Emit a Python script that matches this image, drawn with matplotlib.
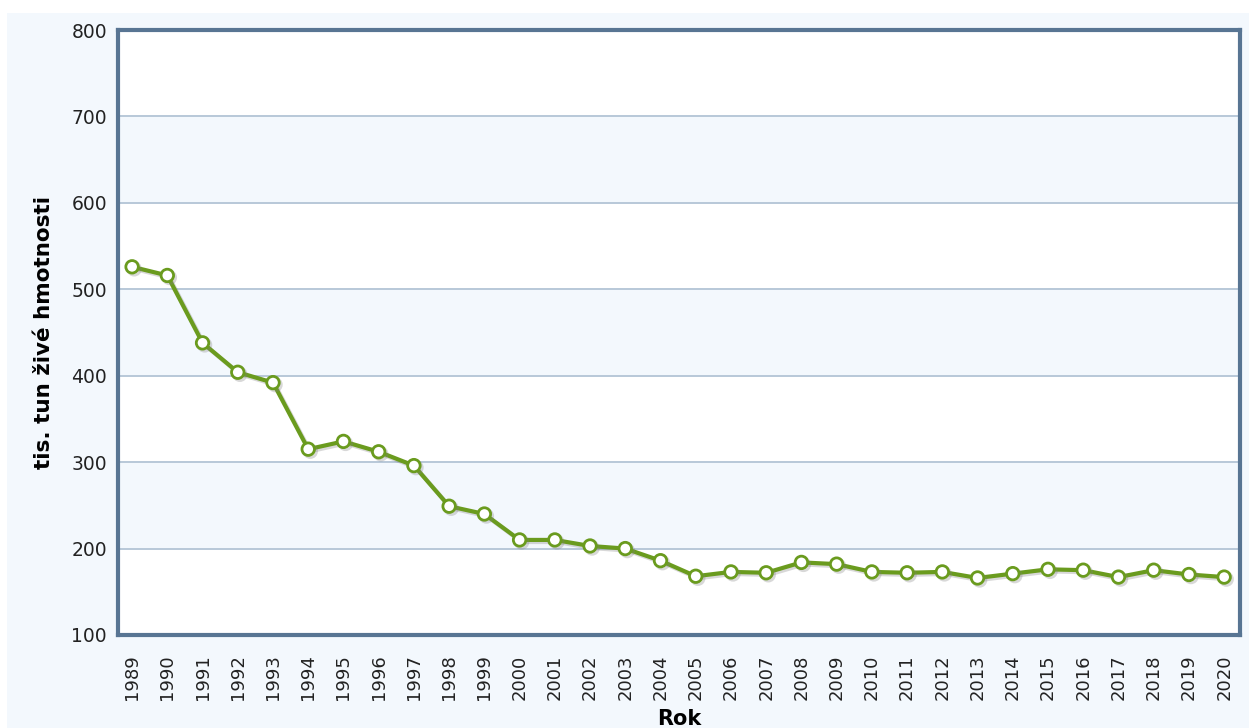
import matplotlib.pyplot as plt
import matplotlib.patheffects as pe
from matplotlib.patches import Rectangle

years = list(range(1989, 2021))
values = [526, 516, 438, 404, 392, 315, 324, 312, 296, 249, 240, 210, 210, 203,
          200, 186, 168, 173, 172, 184, 182, 173, 172, 173, 166, 171, 176, 175,
          167, 175, 170, 167]
y_ticks = [100, 200, 300, 400, 500, 600, 700, 800]

bg = '#f3f8fd'
frame = '#587593'
green = '#6a9b1e'

fig = plt.figure(figsize=(12.49, 7.28), dpi=100)
fig.patch.set_facecolor('white')
fig.patches.append(Rectangle((7 / 1249, 0), 1, 1 - 13 / 728, transform=fig.transFigure,
                             facecolor=bg, edgecolor='none', zorder=-10))

ax = fig.add_axes([118 / 1249, 1 - 635 / 728, 1122 / 1249, 605 / 728])
ax.set_facecolor('white')

# alternating bands
for i, lo in enumerate(y_ticks[:-1]):
    if i % 2 == 1:
        ax.axhspan(lo, lo + 100, color=bg, zorder=0, lw=0)
for t in y_ticks[1:-1]:
    ax.axhline(t, color='#b8c8d8', lw=1.4, zorder=1)

ax.plot(years, values, color=green, lw=3, marker='o', ms=9, mfc='white',
        mec=green, mew=2, zorder=3,
        path_effects=[pe.SimpleLineShadow(offset=(1.5, -1.5), shadow_color='gray', alpha=0.3),
                      pe.Normal()])

ax.set_xlim(1988.6, 2020.45)
ax.set_ylim(100, 800)
ax.set_xticks(years)
ax.set_xticklabels([str(y) for y in years], rotation=90, fontsize=13)
ax.set_yticks(y_ticks)
ax.tick_params(axis='y', labelsize=13.5, length=0, pad=8, labelcolor='#222222')
ax.tick_params(axis='x', length=0, pad=14, labelcolor='#222222')

for s in ax.spines.values():
    s.set_color(frame)
    s.set_linewidth(3)

ax.set_ylabel('tis. tun živé hmotnosti', fontsize=15.5, fontweight='bold', labelpad=12)
ax.set_xlabel('Rok', fontsize=15, fontweight='bold', labelpad=6)

fig.savefig('out.png', dpi=100, facecolor=fig.get_facecolor())
